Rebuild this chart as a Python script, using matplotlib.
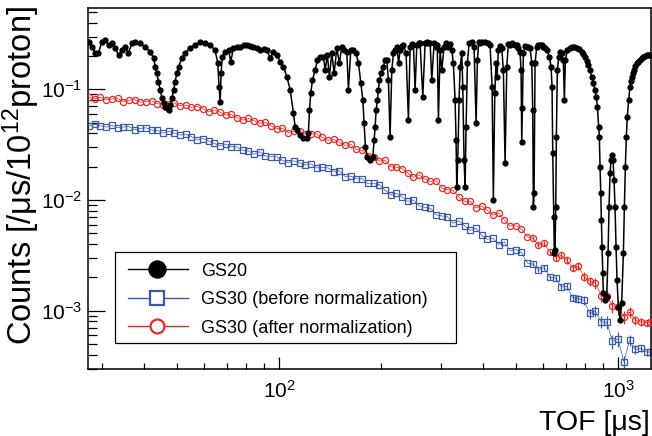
import numpy as np
import matplotlib
matplotlib.use("Agg")
import matplotlib.pyplot as plt
from matplotlib.lines import Line2D
from matplotlib.patches import Rectangle
from matplotlib.ticker import LogLocator, NullFormatter

plt.rcParams['font.family'] = ['Liberation Sans', 'DejaVu Sans']
plt.rcParams['mathtext.fontset'] = 'custom'
plt.rcParams['mathtext.rm'] = 'Liberation Sans'
plt.rcParams['mathtext.it'] = 'Liberation Sans:italic'
plt.rcParams['mathtext.bf'] = 'Liberation Sans:bold'
plt.rcParams['mathtext.sf'] = 'Liberation Sans'

# ---------------- data ----------------
gs20_tof = [27.4, 28.0, 28.7, 29.3, 30.0, 30.7, 31.4, 32.1, 32.8, 33.6, 34.4, 35.1, 35.9, 36.8, 37.6,
            38.9, 40.2, 41.6, 42.6, 43.1, 43.6, 44.0, 44.6, 45.1, 45.6, 46.1, 46.6, 47.2, 47.7, 48.3,
            48.8, 49.3, 49.9, 50.5, 51.6, 52.8, 54.6, 56.5, 58.5, 60.5, 62.6, 64.7, 65.9, 66.5, 67.0,
            67.4, 68.0, 69.3, 70.9, 72.0, 73.3, 75.0, 76.7, 78.5, 80.3, 82.1, 84.0, 86.0, 87.9, 90.0,
            92.0, 94.1, 96.2, 98.5, 100.7, 103.0, 105.4, 107.8, 110.2, 111.5, 112.8, 115.3, 118.0, 120.7,
            122.0, 122.9, 124.0, 125.4, 127.7, 129.7, 132.1, 135.1, 136.7, 138.8, 140.7, 143.0, 145.3,
            148.0, 150.6, 153.1, 155.5, 158.4, 160.1, 162.7, 165.6, 168.7, 171.4, 174.2, 176.6, 178.1,
            179.7, 182.2, 185.5, 189.0, 190.7, 192.0, 193.3, 195.0, 196.3, 197.6, 199.9, 203.1, 205.4,
            207.8, 210.1, 212.5, 215.0, 217.4, 219.9, 222.5, 225.2, 227.5, 230.0, 232.6, 236.9, 240.7,
            243.5, 246.0, 249.0, 251.9, 254.8, 258.0, 260.6, 265.4, 269.6, 272.5, 275.7, 279.0, 282.1,
            286.6, 290.5, 292.8, 295.1, 298.5, 302.0, 306.7, 311.0, 315.8, 319.5, 323.2, 326.7, 330.5,
            332.7, 334.3, 336.6, 339.6, 341.9, 345.9, 348.2, 351.3, 353.7, 356.2, 359.3, 363.5, 370.2,
            376.0, 381.2, 384.6, 388.0, 391.7, 398.0, 405.2, 412.0, 419.2, 425.0, 428.7, 432.8, 436.6,
            439.6, 443.5, 448.5, 453.9, 458.8, 464.2, 469.6, 474.5, 480.2, 488.0, 496.8, 503.0, 508.0,
            513.9, 517.4, 519.9, 522.0, 525.6, 531.0, 537.9, 544.0, 550.1, 556.5, 560.2, 562.5, 565.2,
            569.1, 575.7, 582.0, 588.7, 595.6, 602.1, 609.1, 616.2, 627.2, 634.4, 638.7, 641.7, 646.1,
            648.8, 651.9, 655.0, 657.7, 662.1, 668.5, 674.4, 682.2, 689.7, 694.4, 699.2, 708.7, 719.4,
            730.2, 741.7, 755.4, 767.3, 781.5, 790.0, 799.2, 808.5, 817.4, 826.8, 836.5, 845.5, 855.4,
            862.4, 868.9, 877.2, 880.8, 884.9, 889.2, 892.8, 897.0, 901.3, 905.0, 913.7, 926.2, 934.4,
            940.8, 947.2, 953.6, 960.1, 966.6, 973.2, 979.8, 986.5, 993.3, 1002, 1014, 1025, 1037,
            1044, 1051, 1058, 1065, 1075, 1085, 1092, 1100, 1107, 1115, 1125, 1135, 1148, 1161, 1175,
            1187, 1201, 1215, 1228, 1243]
gs20_counts = [0.269, 0.243, 0.213, 0.213, 0.269, 0.279, 0.251, 0.260, 0.236, 0.204, 0.226, 0.243, 0.213,
               0.260, 0.269, 0.260, 0.243, 0.219, 0.192, 0.160, 0.140, 0.117, 0.0986, 0.0835, 0.0752,
               0.0696, 0.0678, 0.0650, 0.0721, 0.0835, 0.0986, 0.117, 0.140, 0.160, 0.192, 0.213, 0.236,
               0.251, 0.269, 0.260, 0.251, 0.226, 0.173, 0.106, 0.0773, 0.140, 0.197, 0.219, 0.226, 0.178,
               0.236, 0.240, 0.243, 0.250, 0.251, 0.248, 0.243, 0.235, 0.226, 0.230, 0.226, 0.192, 0.219,
               0.204, 0.178, 0.160, 0.130, 0.0986, 0.0611, 0.0459, 0.0429, 0.0387, 0.0361, 0.0361, 0.0403,
               0.0650, 0.0926, 0.121, 0.149, 0.184, 0.197, 0.197, 0.149, 0.204, 0.130, 0.211, 0.140, 0.235,
               0.173, 0.243, 0.226, 0.219, 0.0986, 0.226, 0.226, 0.211, 0.173, 0.113, 0.0800, 0.0496,
               0.0303, 0.0246, 0.0230, 0.0245, 0.0348, 0.0459, 0.0650, 0.0800, 0.0986, 0.121, 0.140, 0.160,
               0.184, 0.184, 0.121, 0.0373, 0.149, 0.211, 0.226, 0.243, 0.173, 0.226, 0.245, 0.251, 0.213,
               0.0528, 0.243, 0.255, 0.251, 0.0986, 0.251, 0.262, 0.260, 0.0857, 0.260, 0.265, 0.260,
               0.262, 0.121, 0.260, 0.243, 0.250, 0.0528, 0.226, 0.149, 0.243, 0.260, 0.243, 0.255, 0.226,
               0.173, 0.0800, 0.0348, 0.0132, 0.0230, 0.0800, 0.160, 0.211, 0.106, 0.0230, 0.0132, 0.0459,
               0.173, 0.260, 0.269, 0.243, 0.0496, 0.184, 0.265, 0.260, 0.268, 0.269, 0.262, 0.251, 0.106,
               0.0100, 0.0926, 0.173, 0.129, 0.226, 0.245, 0.236, 0.149, 0.0216, 0.160, 0.255, 0.251,
               0.262, 0.251, 0.250, 0.236, 0.219, 0.149, 0.0336, 0.0678, 0.211, 0.245, 0.243, 0.242,
               0.235, 0.173, 0.0650, 0.00870, 0.0116, 0.173, 0.243, 0.249, 0.251, 0.249, 0.243, 0.236,
               0.226, 0.197, 0.160, 0.106, 0.0266, 0.00707, 0.00330, 0.00353, 0.00870, 0.0373, 0.149,
               0.197, 0.219, 0.211, 0.184, 0.0800, 0.184, 0.226, 0.236, 0.243, 0.241, 0.235, 0.229, 0.219,
               0.208, 0.197, 0.182, 0.166, 0.148, 0.130, 0.114, 0.0986, 0.0857, 0.0696, 0.0459, 0.0373,
               0.0200, 0.0116, 0.00660, 0.00379, 0.00218, 0.00144, 0.00125, 0.00134, 0.00330, 0.00870,
               0.0174, 0.0230, 0.0255, 0.0230, 0.0152, 0.00870, 0.00379, 0.00189, 0.00109, 0.000824,
               0.00117, 0.00330, 0.00870, 0.0200, 0.0373, 0.0566, 0.0800, 0.106, 0.119, 0.130, 0.140,
               0.149, 0.161, 0.172, 0.178, 0.184, 0.191, 0.197, 0.201, 0.204, 0.204, 0.204]

gs30_tof = [27.5, 28.58, 29.71, 30.88, 32.10, 33.36, 34.68, 36.04, 37.46, 38.94,
            40.47, 42.07, 43.72, 45.45, 47.24, 49.10, 51.03, 53.04, 55.13, 57.31,
            59.56, 61.91, 64.35, 66.88, 69.52, 72.26, 75.11, 78.07, 81.14, 84.34,
            87.66, 91.12, 94.71, 98.44, 102.3, 106.4, 110.6, 114.9, 119.4, 124.1,
            129.0, 134.1, 139.4, 144.9, 150.6, 156.5, 162.7, 169.1, 175.8, 182.7,
            189.9, 197.4, 205.2, 213.3, 221.7, 230.4, 239.5, 248.9, 258.7, 268.9,
            279.5, 290.5, 302.0, 313.9, 326.2, 339.1, 352.4, 366.3, 380.8, 395.8,
            411.4, 427.6, 444.4, 461.9, 480.1, 499.1, 518.7, 539.2, 560.4, 582.5,
            605.5, 629.3, 654.1, 679.9, 706.7, 734.5, 763.5, 793.6, 824.8, 857.3,
            891.1, 926.2, 962.7, 1000.6, 1040, 1081, 1124, 1168, 1214, 1246]

gs30_after = [0.0845, 0.0821, 0.0848, 0.0807, 0.0819, 0.0829, 0.0773, 0.0797, 0.0806, 0.0766,
              0.0776, 0.0784, 0.0744, 0.0721, 0.0744, 0.0752, 0.0712, 0.0718, 0.0686, 0.0699,
              0.0669, 0.0626, 0.0651, 0.0622, 0.0587, 0.0595, 0.0554, 0.0527, 0.0545, 0.0522,
              0.0492, 0.0505, 0.0468, 0.0442, 0.0445, 0.0407, 0.0417, 0.0418, 0.0394, 0.0395,
              0.0396, 0.0368, 0.0346, 0.0353, 0.0331, 0.0311, 0.0319, 0.0286, 0.0280, 0.0249,
              0.0245, 0.0225, 0.0228, 0.0200, 0.0198, 0.0192, 0.0175, 0.0160, 0.0169, 0.0155,
              0.0147, 0.0149, 0.0128, 0.0124, 0.0122, 0.0106, 0.00971, 0.00973, 0.00847, 0.00888,
              0.00805, 0.00729, 0.00763, 0.00657, 0.00583, 0.00587, 0.00550, 0.00467, 0.00451, 0.00389,
              0.00405, 0.00337, 0.00301, 0.00318, 0.00284, 0.00243, 0.00254, 0.00203, 0.00184, 0.00178,
              0.00137, 0.00137, 0.00110, 0.00108, 0.000879, 0.000967, 0.000819, 0.000794, 0.000776, 0.000794]

gs30_before = [0.0466, 0.0482, 0.0468, 0.0456, 0.0472, 0.0450, 0.0456, 0.0461, 0.0430, 0.0443,
               0.0449, 0.0426, 0.0427, 0.0401, 0.0418, 0.0402, 0.0386, 0.0394, 0.0374, 0.0348,
               0.0359, 0.0342, 0.0325, 0.0309, 0.0320, 0.0304, 0.0301, 0.0281, 0.0278, 0.0259,
               0.0273, 0.0249, 0.0247, 0.0245, 0.0228, 0.0218, 0.0226, 0.0217, 0.0208, 0.0212,
               0.0195, 0.0197, 0.0195, 0.0180, 0.0184, 0.0163, 0.0164, 0.0155, 0.0156, 0.0141,
               0.0141, 0.0138, 0.0123, 0.0112, 0.0115, 0.0107, 0.00971, 0.0100, 0.00888, 0.00857,
               0.00843, 0.00735, 0.00717, 0.00705, 0.00616, 0.00648, 0.00587, 0.00531, 0.00555, 0.00479,
               0.00442, 0.00451, 0.00396, 0.00418, 0.00348, 0.00356, 0.00336, 0.00270, 0.00263, 0.00234,
               0.00245, 0.00200, 0.00197, 0.00164, 0.00166, 0.00131, 0.00128, 0.00124, 0.000943, 0.000983,
               0.000797, 0.000784, 0.000529, 0.000553, 0.000346, 0.000538, 0.000446, 0.000456, 0.000422, 0.000423]

# relative statistical errors of the GS30 points (visible only at long TOF)
gs30_relerr = [0.0] * 78 + [0.04, 0.04, 0.05, 0.05, 0.06, 0.06, 0.07, 0.07, 0.08, 0.09,
                            0.10, 0.11, 0.12, 0.13, 0.14, 0.15, 0.13, 0.11, 0.09, 0.08, 0.07, 0.06]

legend_labels = ["GS20", "GS30 (before normalization)", "GS30 (after normalization)"]
x_label = "TOF [μs]"
y_label = "Counts [/μs/10$^{12}$proton]"

# ---------------- style ----------------
C_BLACK = "black"
C_BLUE = "#3c5aaa"
C_RED = "#eb2823"

W, H = 652, 436
fig = plt.figure(figsize=(W / 100, H / 100), dpi=100)
ax = fig.add_axes([87.5 / W, 1 - 369 / H, (651 - 87.5) / W, (369 - 8) / H])

t30 = np.array(gs30_tof)
after = np.array(gs30_after)
before = np.array(gs30_before)
rel = np.array(gs30_relerr)

ax.errorbar(t30, before, yerr=rel * before, fmt='s', color=C_BLUE, mfc='none', mec=C_BLUE,
            ms=4.2, mew=0.9, elinewidth=0.9, capsize=0, ls='-', lw=0.5, zorder=2)
ax.errorbar(t30, after, yerr=rel * after, fmt='o', color=C_RED, mfc='none', mec=C_RED,
            ms=4.4, mew=0.9, elinewidth=0.9, capsize=0, ls='-', lw=0.5, zorder=3)

order = np.argsort(gs20_tof)
t20 = np.array(gs20_tof)[order]
c20 = np.array(gs20_counts)[order]
ax.plot(t20, c20, color=C_BLACK, marker='o', ms=3.5, lw=1.1, zorder=5)

ax.set_xscale('log')
ax.set_yscale('log')
ax.set_xlim(27.2, 1251)
ax.set_ylim(2.97e-4, 0.543)

for axis in (ax.xaxis, ax.yaxis):
    axis.set_major_locator(LogLocator(base=10, numticks=20))
    axis.set_minor_locator(LogLocator(base=10, subs=np.arange(2, 10), numticks=100))
    axis.set_minor_formatter(NullFormatter())

ax.tick_params(which='both', direction='in', top=False, right=False, width=0.9, labelsize=15)
ax.tick_params(axis='y', which='major', length=12.2, pad=3.5)
ax.tick_params(axis='y', which='minor', length=6.5)
ax.tick_params(axis='x', which='major', length=8.6, pad=7.5)
ax.tick_params(axis='x', which='minor', length=4.3)
for s in ax.spines.values():
    s.set_linewidth(1.1)

# axis titles (ROOT style, aligned to the axis ends)
fig.text(21 / W, 1 - 6 / H, y_label, rotation=90, ha='center', va='top', fontsize=23.5)
fig.text(650 / W, 1 - 430 / H, x_label, ha='right', va='baseline', fontsize=20.5)

# legend box
def P(px, py):
    return px / W, 1 - py / H

x0, y0 = P(115, 343)
x1, y1 = P(456, 252)
fig.add_artist(Rectangle((x0, y0), x1 - x0, y1 - y0, transform=fig.transFigure,
                         fill=True, facecolor='white', edgecolor='black', lw=0.9, zorder=10))
rows = [269, 297.5, 326]
styles = [dict(color=C_BLACK, marker='o', ms=12.2, mfc=C_BLACK, mec=C_BLACK, mew=1.0),
          dict(color=C_BLUE, marker='s', ms=9.5, mfc='white', mec=C_BLUE, mew=1.6),
          dict(color=C_RED, marker='o', ms=10.0, mfc='white', mec=C_RED, mew=1.6)]
for ry, st, lab in zip(rows, styles, legend_labels):
    xa, ya = P(128, ry)
    xb, _ = P(188, ry)
    xm, _ = P(157, ry)
    fig.add_artist(Line2D([xa, xb], [ya, ya], transform=fig.transFigure, color=st['color'],
                          lw=1.0, zorder=11))
    fig.add_artist(Line2D([xm], [ya], transform=fig.transFigure, ls='none', marker=st['marker'],
                          ms=st['ms'], mfc=st['mfc'], mec=st['mec'], mew=st['mew'], zorder=12))
    tx, ty = P(200.7, ry + 6.6)
    fig.text(tx, ty, lab, ha='left', va='baseline', fontsize=13, zorder=13)

fig.savefig("out.png", dpi=100)
